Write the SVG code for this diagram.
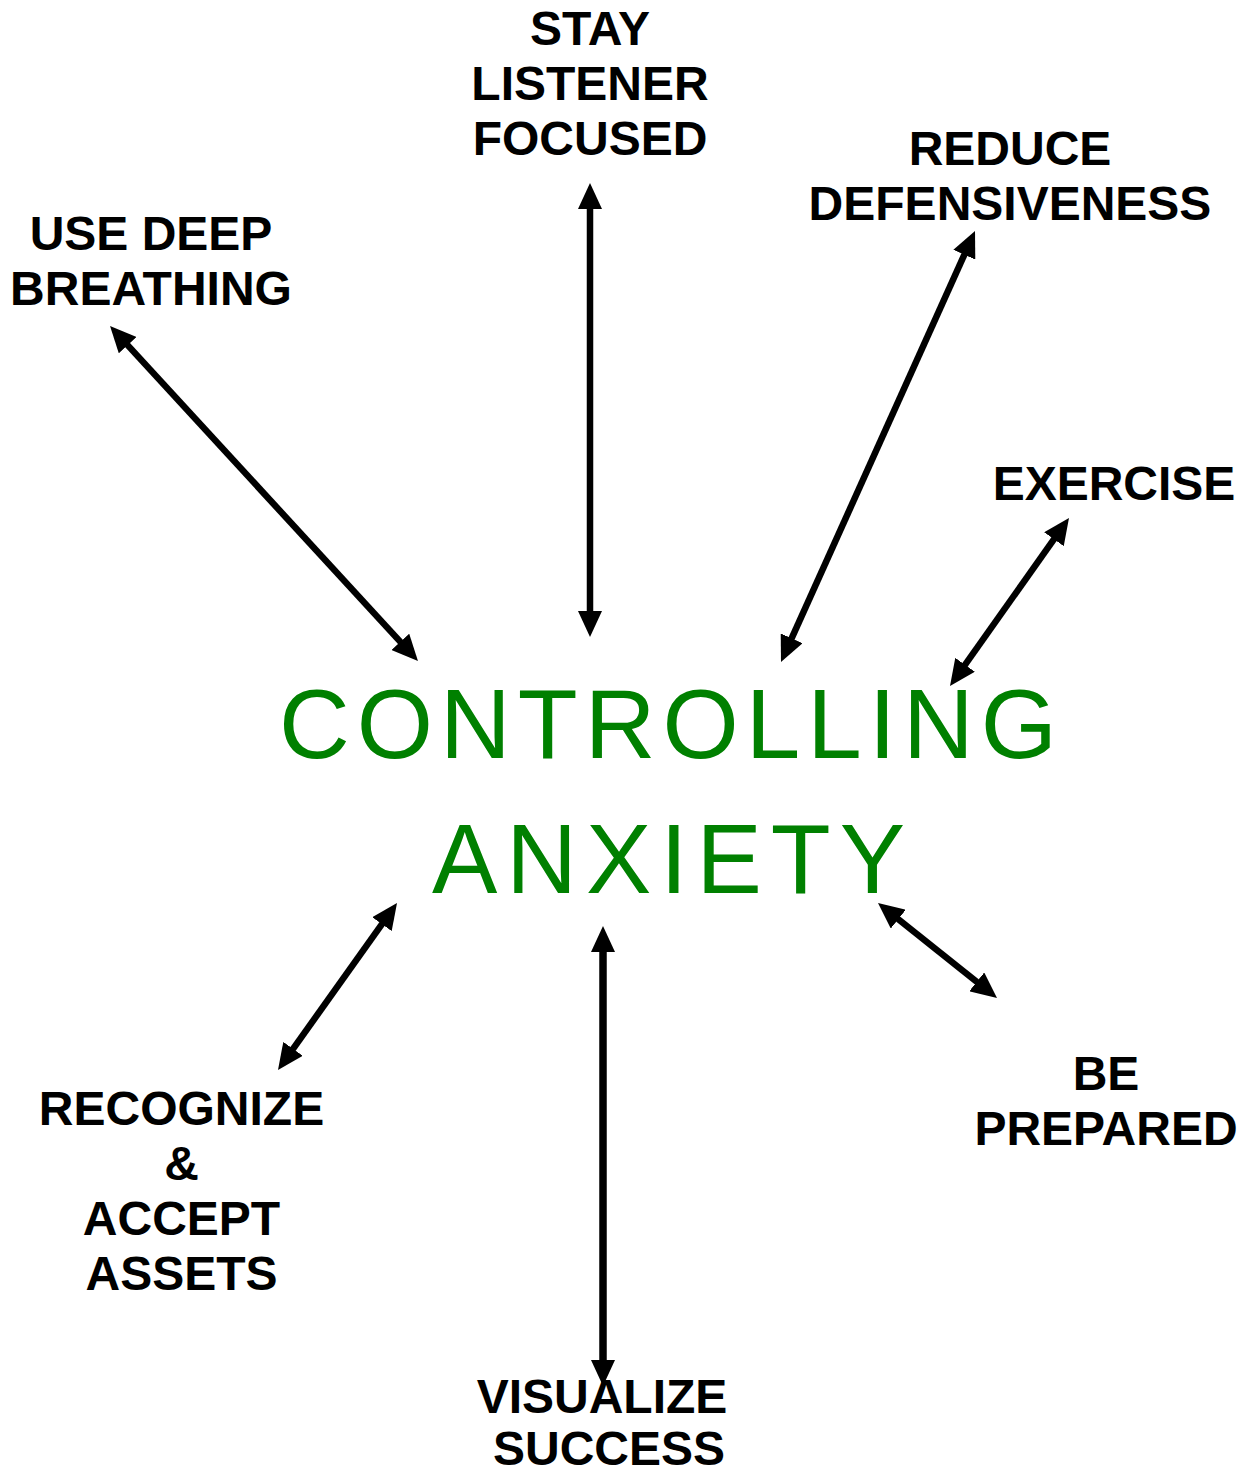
<svg xmlns="http://www.w3.org/2000/svg" width="1250" height="1471" viewBox="0 0 1250 1471">
<style>
.lbl{font-family:"Liberation Sans",Arial,sans-serif;font-weight:bold;font-size:48px;fill:#000;text-anchor:middle}
.ttl{font-family:"Liberation Sans",Arial,sans-serif;font-size:98px;fill:#008000}
.con line{stroke:#000;stroke-width:6.5;marker-start:url(#ah);marker-end:url(#ah)}
</style>
<defs>
<marker id="ah" viewBox="0 0 26 24" markerWidth="26" markerHeight="24" markerUnits="userSpaceOnUse" refX="16" refY="12" orient="auto-start-reverse">
<path d="M0,0 L26,12 L0,24 z" fill="#000"/>
</marker>
</defs>
<rect width="1250" height="1471" fill="#fff"/>
<g id="connectors" class="con">
<line x1="590" y1="193" x2="590" y2="627"/>
<line x1="116.8" y1="333.4" x2="411.2" y2="653.6"/>
<line x1="970.9" y1="240.1" x2="785.1" y2="652.9"/>
<line x1="1063.2" y1="526.2" x2="955.8" y2="677.8"/>
<line x1="391.2" y1="911.1" x2="283.8" y2="1061.9"/>
<line x1="603" y1="936" x2="603" y2="1376" style="stroke-width:7.5"/>
<line x1="885.8" y1="909.2" x2="989.2" y2="991.8"/>
</g>
<g id="center">
<text class="ttl" x="279" y="758" textLength="778" lengthAdjust="spacing">CONTROLLING</text>
<text class="ttl" x="432" y="893" textLength="473" lengthAdjust="spacing">ANXIETY</text>
</g>
<g id="stay">
<text class="lbl" x="590" y="45">STAY</text>
<text class="lbl" x="590" y="100">LISTENER</text>
<text class="lbl" x="590" y="155">FOCUSED</text>
</g>
<g id="breathing">
<text class="lbl" x="151" y="250">USE DEEP</text>
<text class="lbl" x="151" y="305">BREATHING</text>
</g>
<g id="defensiveness">
<text class="lbl" x="1010" y="165">REDUCE</text>
<text class="lbl" x="1010" y="220">DEFENSIVENESS</text>
</g>
<g id="exercise">
<text class="lbl" x="1114" y="500">EXERCISE</text>
</g>
<g id="recognize">
<text class="lbl" x="181.5" y="1125">RECOGNIZE</text>
<text class="lbl" x="181.5" y="1180">&amp;</text>
<text class="lbl" x="181.5" y="1235">ACCEPT</text>
<text class="lbl" x="181.5" y="1290">ASSETS</text>
</g>
<g id="prepared">
<text class="lbl" x="1106" y="1090">BE</text>
<text class="lbl" x="1106" y="1145">PREPARED</text>
</g>
<g id="visualize">
<text class="lbl" x="602" y="1413">VISUALIZE</text>
<text class="lbl" x="609" y="1465">SUCCESS</text>
</g>
</svg>
